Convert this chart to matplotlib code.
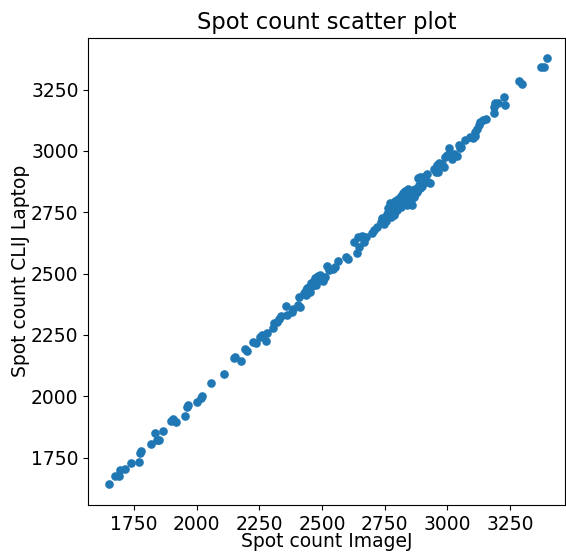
import numpy as np
import matplotlib
matplotlib.use("Agg")
import matplotlib.pyplot as plt

# Spot counts: ImageJ (x) vs CLIJ on laptop (y)
imagej = [
    1652, 1674, 1692, 1694, 1714, 1737, 1771, 1774, 1778, 1816,
    1834, 1843, 1851, 1867, 1896, 1907, 1916, 1953, 1963, 1964,
    2000, 2016, 2020, 2057, 2109, 2149, 2153, 2175, 2193, 2202,
    2226, 2235, 2252, 2259, 2277, 2279, 2303, 2310, 2319, 2330,
    2335, 2356, 2359, 2381, 2385, 2405, 2407, 2414, 2428, 2436,
    2441, 2449, 2454, 2462, 2465, 2472, 2478, 2485, 2492, 2436,
    2452, 2476, 2494, 2502, 2512, 2521, 2529, 2545, 2552, 2565,
    2594, 2605, 2628, 2643, 2646, 2640, 2660, 2666, 2677, 2700,
    2709, 2720, 2733, 2740, 2746, 2753, 2759, 2766, 2770, 2773,
    2779, 2783, 2786, 2793, 2797, 2799, 2806, 2810, 2813, 2819,
    2823, 2826, 2833, 2837, 2839, 2846, 2850, 2855, 2859, 2863,
    2869, 2877, 2882, 2890, 2896, 2900, 2756, 2775, 2788, 2802,
    2815, 2829, 2842, 2853, 2866, 2884, 2891, 2904, 2910, 2920,
    2924, 2930, 2946, 2954, 2960, 2964, 2968, 2977, 2987, 2991,
    3000, 3008, 3018, 3027, 3038, 3044, 3048, 3054, 3071, 3088,
    3102, 3111, 3111, 3118, 3125, 3131, 3142, 3155, 3184, 3187,
    3191, 3200, 3224, 3231, 3284, 3298, 3371, 3384, 3395,
    # denser parts of the two clusters
    2444, 2458, 2468, 2482, 2762, 2781, 2795, 2808, 2817, 2828,
    2835, 2844, 2857, 2872, 2886, 2763, 2791, 2821,
]
clij_laptop = [
    1643, 1677, 1676, 1700, 1703, 1727, 1734, 1771, 1778, 1806,
    1850, 1822, 1822, 1859, 1901, 1906, 1897, 1921, 1955, 1965,
    1976, 1992, 2002, 2053, 2091, 2155, 2162, 2144, 2192, 2185,
    2223, 2216, 2240, 2250, 2227, 2259, 2277, 2297, 2304, 2314,
    2327, 2368, 2331, 2345, 2354, 2372, 2403, 2365, 2420, 2433,
    2440, 2447, 2460, 2453, 2467, 2481, 2487, 2490, 2494, 2413,
    2426, 2453, 2481, 2471, 2487, 2531, 2515, 2517, 2528, 2551,
    2566, 2558, 2627, 2650, 2607, 2585, 2653, 2630, 2650, 2664,
    2677, 2691, 2711, 2725, 2704, 2732, 2745, 2759, 2789, 2752,
    2766, 2779, 2738, 2772, 2793, 2759, 2786, 2799, 2772, 2806,
    2786, 2820, 2799, 2779, 2826, 2813, 2833, 2820, 2779, 2840,
    2826, 2833, 2843, 2847, 2854, 2856, 2715, 2732, 2749, 2806,
    2816, 2837, 2843, 2799, 2813, 2888, 2894, 2894, 2884, 2908,
    2874, 2870, 2928, 2915, 2942, 2915, 2949, 2946, 2935, 2976,
    2983, 3010, 2969, 2989, 2979, 3023, 3010, 3017, 3046, 3055,
    3051, 3060, 3078, 3091, 3105, 3118, 3125, 3132, 3155, 3179,
    3196, 3197, 3220, 3186, 3285, 3274, 3340, 3340, 3378,
    2436, 2448, 2472, 2476, 2749, 2772, 2779, 2792, 2802, 2808,
    2818, 2826, 2838, 2846, 2860, 2768, 2796, 2828,
]

fig = plt.figure(figsize=(5.66, 5.52), dpi=100)
ax = fig.add_axes([0.156, 0.085, 0.842, 0.847])
ax.scatter(imagej, clij_laptop, s=27, color="#1f77b4")
ax.set_xlim(1568, 3468)
ax.set_ylim(1557, 3462)
ax.set_xticks([1750, 2000, 2250, 2500, 2750, 3000, 3250])
ax.set_yticks([1750, 2000, 2250, 2500, 2750, 3000, 3250])
ax.tick_params(labelsize=13.5)
ax.set_xlabel("Spot count ImageJ", fontsize=13.5, labelpad=-1)
ax.set_ylabel("Spot count CLIJ Laptop", fontsize=13.5, labelpad=1)
ax.set_title("Spot count scatter plot", fontsize=16.3)
fig.savefig("out.png", dpi=100)
